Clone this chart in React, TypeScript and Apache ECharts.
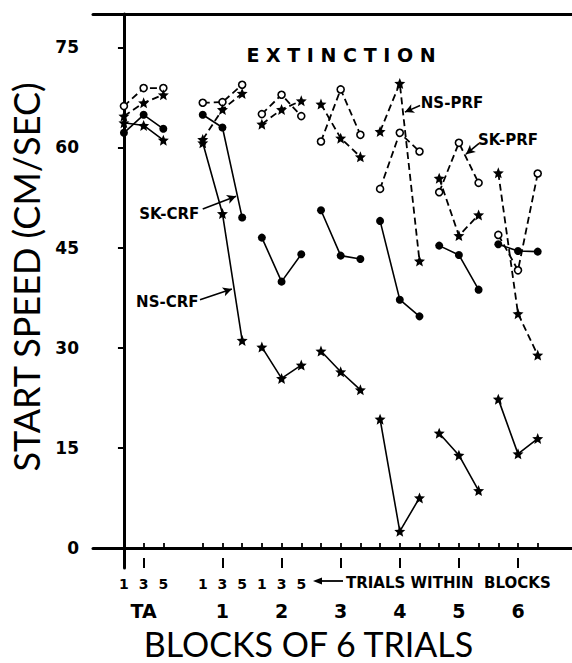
import React, { useEffect, useRef } from "react";
import * as echarts from "echarts";

// ---- data ----
const blockLabels = ["TA", "1", "2", "3", "4", "5", "6"];
const trialLabels = ["1", "3", "5"];
// index of first trial of each block on the x scale (TA separated by a gap)
const blockStart = [0, 4, 7, 10, 13, 16, 19];

const skCrf = [
  [62.2, 64.9, 62.8],
  [64.9, 63.0, 49.5],
  [46.5, 39.9, 44.0],
  [50.6, 43.8, 43.3],
  [49.0, 37.2, 34.7],
  [45.3, 43.9, 38.7],
  [45.5, 44.5, 44.4],
];
const nsCrf = [
  [63.7, 63.3, 61.1],
  [60.7, 50.1, 31.1],
  [30.1, 25.4, 27.4],
  [29.5, 26.4, 23.7],
  [19.3, 2.5, 7.5],
  [17.2, 13.9, 8.6],
  [22.3, 14.1, 16.4],
];
const skPrf = [
  [66.2, 68.9, 68.9],
  [66.7, 66.8, 69.4],
  [65.0, 67.9, 64.7],
  [60.9, 68.7, 61.9],
  [53.8, 62.2, 59.4],
  [53.3, 60.7, 54.7],
  [46.9, 41.6, 56.1],
];
const nsPrf = [
  [64.7, 66.7, 67.9],
  [61.2, 65.7, 68.1],
  [63.5, 65.7, 67.0],
  [66.5, 61.4, 58.6],
  [62.4, 69.6, 43.0],
  [55.4, 46.8, 49.9],
  [56.2, 35.1, 28.9],
];
const yTicks = [0, 15, 30, 45, 60, 75];

// annotation: label position, arrow start, arrow tip (data coordinates)
const annSkCrf = { text: "SK-CRF", at: [2.3, 50.0], from: [4.0, 50.8], to: [5.69, 52.7] };
const annNsCrf = { text: "NS-CRF", at: [2.2, 36.8], from: [3.86, 37.2], to: [5.48, 38.8] };
const annNsPrf = { text: "NS-PRF", at: [16.65, 66.6], from: [15.03, 66.3], to: [14.26, 65.3] };
const annSkPrf = { text: "SK-PRF", at: [19.49, 61.1], from: [18.02, 60.6], to: [17.36, 59.0] };

const X_MIN = -1.57;
const X_MAX = 22.74;

function starPath(): string {
  let d = "";
  for (let i = 0; i < 10; i++) {
    const r = i % 2 ? 0.45 : 1;
    const a = -Math.PI / 2 + (i * Math.PI) / 5;
    const x = 50 + 50 * r * Math.cos(a);
    const y = 52 + 50 * r * Math.sin(a);
    d += (i ? "L" : "M") + x.toFixed(1) + " " + y.toFixed(1);
  }
  return "path://" + d + "Z";
}

function buildData(groups: number[][]) {
  const out: any[] = [];
  groups.forEach((g, gi) => {
    g.forEach((v, ti) => out.push([blockStart[gi] + ti, v]));
    out.push([blockStart[gi] + 2.5, null]);
  });
  return out;
}

const FONT = "'DejaVu Sans', sans-serif";
const TITLE_FONT = "Lato, 'Open Sans', sans-serif";

function annotation(a: any) {
  return {
    markLine: {
      silent: true,
      symbol: ["none", "arrow"],
      symbolSize: [7, 9],
      label: { show: false },
      lineStyle: { color: "#000", width: 1.6, type: "solid" },
      data: [[{ coord: a.from }, { coord: a.to }]],
    },
    markPoint: {
      silent: true,
      symbol: "circle",
      symbolSize: 1,
      itemStyle: { color: "rgba(0,0,0,0)" },
      label: {
        show: true,
        position: "inside",
        formatter: a.text,
        color: "#000",
        fontFamily: FONT,
        fontWeight: "bold",
        fontSize: 15,
      },
      data: [{ coord: a.at, value: 0 }],
    },
  };
}

export default function App() {
  const ref = useRef<HTMLDivElement>(null);
  useEffect(() => {
    if (!ref.current) return;
    const chart = echarts.init(ref.current, null, { renderer: "svg" });
    const star = starPath();
    const trialIdx: number[] = [];
    blockStart.forEach((s) => trialIdx.push(s, s + 1, s + 2));
    const labelTrialIdx = trialIdx.slice(0, 9);
    const midIdx = blockStart.map((s) => s + 1);

    const option: any = {
      animation: false,
      backgroundColor: "#fff",
      grid: { left: 93, top: 14, right: 0, bottom: 95, containLabel: false, outerBoundsMode: "none" },
      xAxis: [
        {
          type: "value",
          position: "bottom",
          min: X_MIN,
          max: X_MAX,
          splitLine: { show: false },
          axisLine: { show: true, lineStyle: { color: "#000", width: 3 } },
          axisTick: { show: true, inside: true, length: 5, customValues: trialIdx, lineStyle: { color: "#000", width: 1.8 } },
          axisLabel: {
            show: true,
            customValues: labelTrialIdx,
            formatter: (v: number) => {
              const i = trialIdx.indexOf(Math.round(v));
              return i >= 0 ? trialLabels[i % 3] : "";
            },
            margin: 9,
            color: "#000",
            fontFamily: FONT,
            fontWeight: "bold",
            fontSize: 14,
          },
        },
        {
          type: "value",
          position: "bottom",
          min: X_MIN,
          max: X_MAX,
          splitLine: { show: false },
          axisLine: { show: false },
          axisTick: { show: true, inside: true, length: 10, customValues: midIdx, lineStyle: { color: "#000", width: 2 } },
          axisLabel: {
            show: true,
            customValues: midIdx,
            formatter: (v: number) => {
              const i = midIdx.indexOf(Math.round(v));
              return i >= 0 ? blockLabels[i] : "";
            },
            margin: 33,
            color: "#000",
            fontFamily: FONT,
            fontWeight: "bold",
            fontSize: 19,
          },
          name: "BLOCKS OF 6 TRIALS",
          nameLocation: "middle",
          nameGap: 57,
          nameTextStyle: {
            color: "#000",
            fontFamily: TITLE_FONT,
            fontSize: 34,
            lineHeight: 36,
            padding: [0, 48, 0, 0],
          },
        },
        {
          type: "value",
          position: "top",
          min: X_MIN,
          max: X_MAX,
          splitLine: { show: false },
          axisLine: { show: true, lineStyle: { color: "#000", width: 3 } },
          axisTick: { show: false },
          axisLabel: { show: false },
        },
      ],
      yAxis: {
        type: "value",
        min: -3,
        max: 80,
        splitLine: { show: false },
        axisLine: { show: true, lineStyle: { color: "#000", width: 3 } },
        axisTick: { show: true, inside: false, length: 6, customValues: yTicks, lineStyle: { color: "#000", width: 2 } },
        axisLabel: {
          show: true,
          customValues: yTicks,
          margin: 14,
          color: "#000",
          fontFamily: FONT,
          fontWeight: "bold",
          fontSize: 17,
        },
        name: "START SPEED (CM/SEC)",
        nameLocation: "middle",
        nameGap: 44,
        nameTextStyle: {
          color: "#000",
          fontFamily: TITLE_FONT,
          fontSize: 36,
          padding: [0, 0, 0, 28],
        },
      },
      graphic: [
        {
          type: "text",
          x: 341,
          y: 55,
          style: {
            text: "E X T I N C T I O N",
            fill: "#000",
            font: "bold 19px 'DejaVu Sans', sans-serif",
            align: "center",
            verticalAlign: "middle",
          },
        },
        {
          type: "text",
          x: 346,
          y: 583,
          style: {
            text: "TRIALS WITHIN  BLOCKS",
            fill: "#000",
            font: "bold 15px 'DejaVu Sans', sans-serif",
            align: "left",
            verticalAlign: "middle",
          },
        },
        {
          type: "line",
          shape: { x1: 343, y1: 581, x2: 320, y2: 581 },
          style: { stroke: "#000", lineWidth: 1.8 },
        },
        {
          type: "polygon",
          shape: { points: [[313, 581], [322, 577.5], [322, 584.5]] },
          style: { fill: "#000" },
        },
      ],
      series: [
        {
          name: "SK-CRF",
          type: "line",
          xAxisIndex: 0,
          data: buildData(skCrf),
          connectNulls: false,
          symbol: "circle",
          symbolSize: 8,
          showAllSymbol: true,
          lineStyle: { color: "#000", width: 1.6 },
          itemStyle: { color: "#000", borderColor: "#000", borderWidth: 0 },
          z: 3,
          ...annotation(annSkCrf),
        },
        {
          name: "NS-CRF",
          type: "line",
          xAxisIndex: 0,
          data: buildData(nsCrf),
          connectNulls: false,
          symbol: star,
          symbolSize: 11,
          showAllSymbol: true,
          lineStyle: { color: "#000", width: 1.6 },
          itemStyle: { color: "#000", borderWidth: 0 },
          z: 3,
          ...annotation(annNsCrf),
        },
        {
          name: "SK-PRF",
          type: "line",
          xAxisIndex: 0,
          data: buildData(skPrf),
          connectNulls: false,
          symbol: "circle",
          symbolSize: 7,
          showAllSymbol: true,
          lineStyle: { color: "#000", width: 1.8, type: [7, 4] },
          itemStyle: { color: "#fff", borderColor: "#000", borderWidth: 1.6 },
          z: 4,
          ...annotation(annSkPrf),
        },
        {
          name: "NS-PRF",
          type: "line",
          xAxisIndex: 0,
          data: buildData(nsPrf),
          connectNulls: false,
          symbol: star,
          symbolSize: 11,
          showAllSymbol: true,
          lineStyle: { color: "#000", width: 1.8, type: [7, 4] },
          itemStyle: { color: "#000", borderWidth: 0 },
          z: 4,
          ...annotation(annNsPrf),
        },
      ],
    };
    chart.setOption(option);
    return () => chart.dispose();
  }, []);
  return (
    <div
      ref={ref}
      style={{ position: "fixed", left: 0, top: 0, width: 572, height: 663, background: "#fff" }}
    />
  );
}
